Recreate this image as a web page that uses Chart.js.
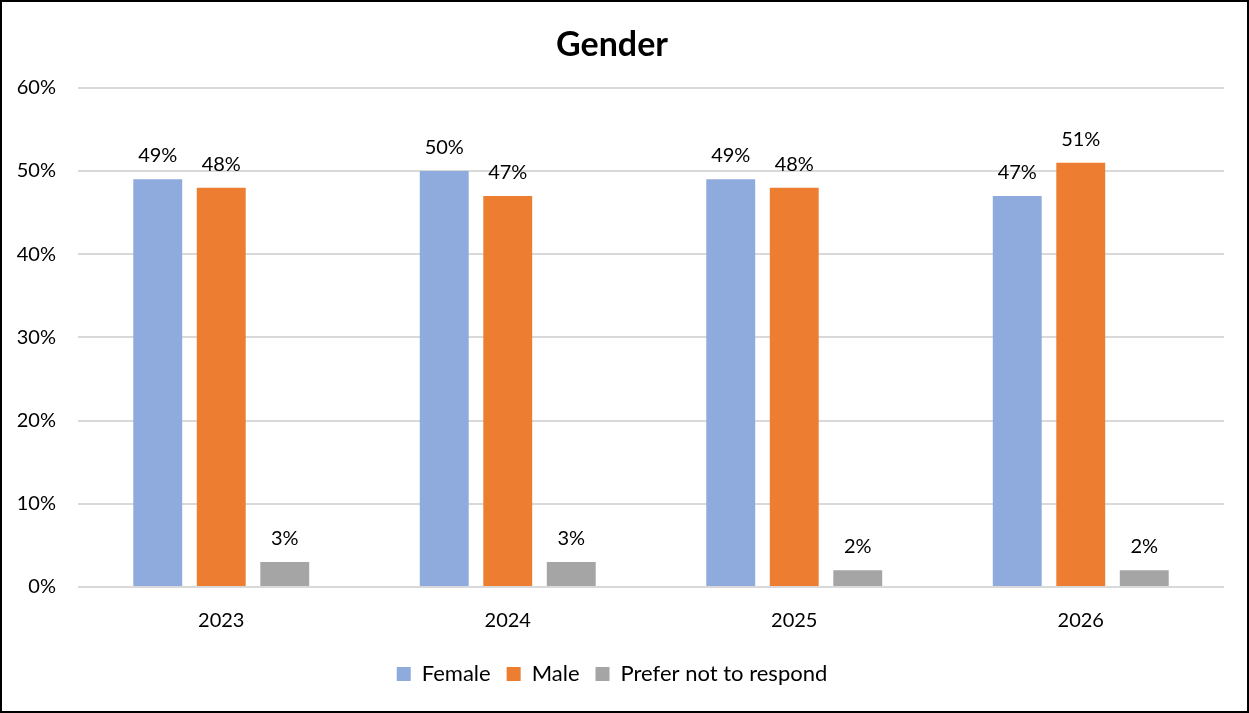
<!DOCTYPE html>
<html>
<head>
<meta charset="utf-8">
<script src="https://cdn.jsdelivr.net/npm/chart.js@4"></script>
<style>
  html, body { margin: 0; padding: 0; background: #fff; }
  canvas { display: block; }
</style>
</head>
<body>
<canvas id="genderChart" width="1249" height="713"></canvas>
<script>
// ===== Data =====
const years = ['2023', '2024', '2025', '2026'];
const female = [49, 50, 49, 47];
const male = [48, 47, 48, 51];
const preferNot = [3, 3, 2, 2];
const yTicks = [0, 10, 20, 30, 40, 50, 60];

const FONT = 'Lato, "Open Sans", sans-serif';

// ===== Plugins =====
// value labels over each bar
const barLabels = {
  id: 'barLabels',
  afterDatasetsDraw(chart) {
    const ctx = chart.ctx;
    ctx.save();
    ctx.font = '20px ' + FONT;
    ctx.fillStyle = '#000';
    ctx.textAlign = 'center';
    ctx.textBaseline = 'alphabetic';
    chart.data.datasets.forEach((ds, i) => {
      chart.getDatasetMeta(i).data.forEach((bar, j) => {
        ctx.fillText(ds.data[j] + '%', bar.x, bar.y - 17);
      });
    });
    ctx.restore();
  }
};

// outer frame
const frame = {
  id: 'frame',
  afterDraw(chart) {
    const ctx = chart.ctx;
    ctx.save();
    ctx.strokeStyle = '#000';
    ctx.lineWidth = 2;
    ctx.strokeRect(1, 1, chart.width - 2, chart.height - 2);
    ctx.restore();
  }
};

// ===== Chart =====
new Chart(document.getElementById('genderChart'), {
  type: 'bar',
  data: {
    labels: years,
    datasets: [
      { label: 'Female', data: female, backgroundColor: '#8FAADC' },
      { label: 'Male', data: male, backgroundColor: '#ED7D31' },
      { label: 'Prefer not to respond', data: preferNot, backgroundColor: '#A5A5A5' }
    ]
  },
  options: {
    responsive: false,
    animation: false,
    layout: { padding: { top: 0, left: 0, right: 25, bottom: 18 } },
    datasets: { bar: { categoryPercentage: 0.665, barPercentage: 0.77 } },
    plugins: {
      title: {
        display: true,
        text: 'Gender',
        color: '#000',
        font: { family: FONT, size: 34, weight: 'bold' },
        padding: { top: 25, bottom: 22 }
      },
      legend: {
        position: 'bottom',
        labels: {
          color: '#000',
          font: { family: FONT, size: 22 },
          boxWidth: 14,
          boxHeight: 14,
          padding: 16
        }
      },
      tooltip: { enabled: false }
    },
    scales: {
      x: {
        grid: { display: false },
        border: { display: false },
        ticks: { color: '#000', font: { family: FONT, size: 20 }, padding: 14 }
      },
      y: {
        min: 0,
        max: 60,
        afterFit: (scale) => { scale.width = 78; },
        afterBuildTicks: (scale) => { scale.ticks = yTicks.map(v => ({ value: v })); },
        grid: { color: '#D9D9D9', lineWidth: 2, drawTicks: false },
        border: { display: false },
        ticks: {
          color: '#000',
          font: { family: FONT, size: 20 },
          padding: 22,
          callback: (v) => v + '%'
        }
      }
    }
  },
  plugins: [barLabels, frame]
});
</script>
</body>
</html>
